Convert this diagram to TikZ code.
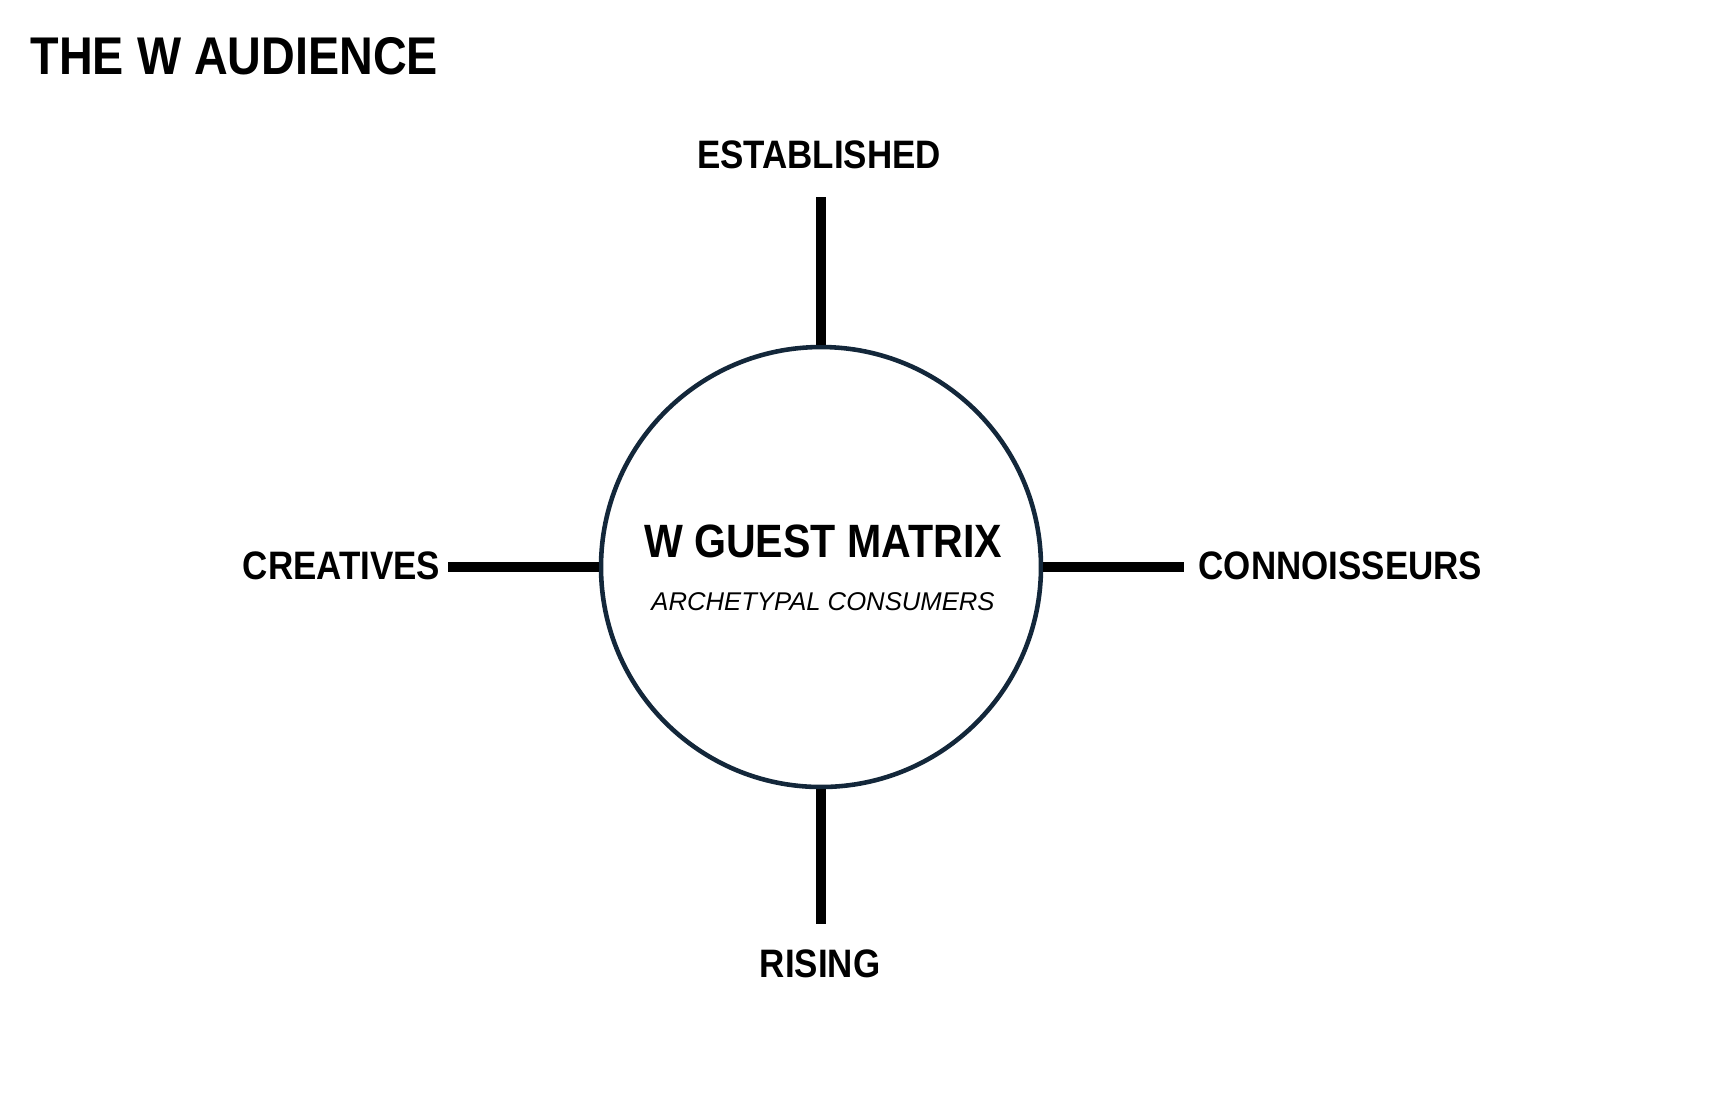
\documentclass[tikz,border=0pt]{standalone}
\usepackage{fontspec}
\setmainfont{Liberation Sans}[FakeStretch=0.88]
\newfontfamily\plainfont{Liberation Sans}
\usepackage{xcolor}
\usepackage{tikz}
\usetikzlibrary{calc}
\definecolor{ringnavy}{HTML}{13273A}
\tikzset{
    ring/.style={circle, draw=ringnavy, line width=1.3pt, minimum size=44mm, inner sep=0pt},
    spoke/.style={line width=2.85pt, black},
    axislabel/.style={inner sep=0pt, font=\fontsize{11.3}{13}\selectfont\bfseries},
    headline/.style={inner sep=0pt, font=\fontsize{15.1}{18}\selectfont\bfseries},
    hubtitle/.style={inner sep=0pt, font=\fontsize{13.3}{16}\selectfont\bfseries},
    hubsub/.style={inner sep=0pt, font=\plainfont\fontsize{7.3}{9}\selectfont\itshape},
}

\begin{document}
\begin{tikzpicture}[x=0.1mm, y=-0.1mm]
    \useasboundingbox (0,0) rectangle (1718,1106);
    \node[headline, anchor=base west] (title) at (30,74) {THE W AUDIENCE};

    \node[ring] (gm) at (821,567) {};
    \node[hubtitle, anchor=base] (gmt) at (823,557) {W GUEST MATRIX};
    \node[hubsub, anchor=base] (gms) at (823,610) {ARCHETYPAL CONSUMERS};

    \node[axislabel, anchor=base] (est) at (819,168) {ESTABLISHED};
    \node[axislabel, anchor=base] (ris) at (820,977) {RISING};
    \node[axislabel, anchor=base east] (cre) at (441,579) {CREATIVES};
    \node[axislabel, anchor=base west] (con) at (1198,579) {CONNOISSEURS};

    \draw[spoke, shorten >=2.8mm] (gm.north) -- (gm.north |- est.south);
    \draw[spoke, shorten >=2.5mm] (gm.south) -- (gm.south |- ris.north);
    \draw[spoke, shorten >=0.7mm] (gm.west) -- (gm.west -| cre.east);
    \draw[spoke, shorten >=1.4mm] (gm.east) -- (gm.east -| con.west);
\end{tikzpicture}
\end{document}
